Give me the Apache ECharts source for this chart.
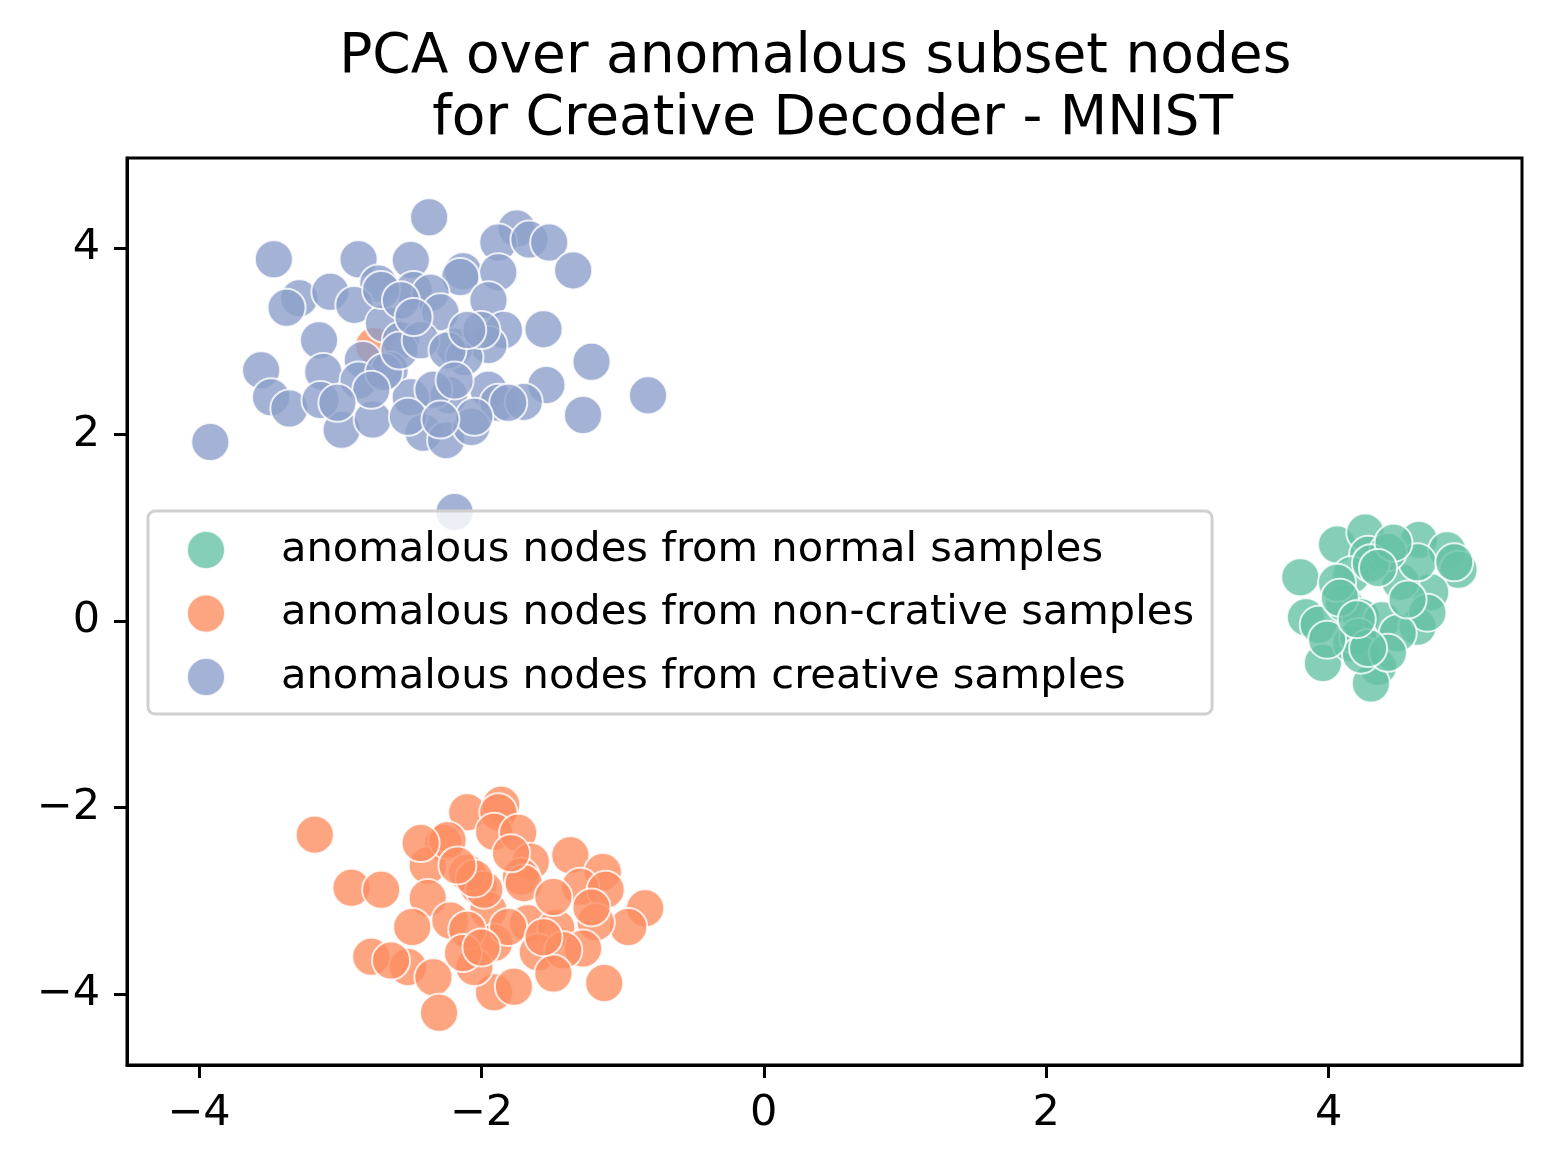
<!DOCTYPE html>
<html>
<head>
  <meta charset="utf8">
  <script src="https://cdn.jsdelivr.net/npm/echarts@6/dist/echarts.min.js"></script>
  <style>
    body { margin: 0; background: #fff; }
    #main { width: 1555px; height: 1169px; }
  </style>
</head>
<body>
<div id="main"></div>
<script type="text/javascript">
  // points, [x, y]
  var normalNodes = [
    [3.80, 0.47], [4.06, 0.82], [4.26, 0.95], [4.28, 0.71], [4.16, 0.49], [4.64, 0.87],
    [4.84, 0.76], [4.92, 0.55], [4.72, 0.31], [4.51, 0.42], [4.63, 0.63], [4.42, 0.74],
    [3.84, 0.04], [3.93, -0.04], [4.11, 0.19], [4.23, 0.04], [4.38, 0.01], [4.63, -0.06],
    [4.70, 0.09], [3.96, -0.45], [4.16, -0.24], [4.21, -0.17], [4.35, -0.49], [4.30, -0.67],
    [4.23, -0.36], [4.49, -0.13], [4.06, 0.41], [4.30, 0.62], [4.56, 0.23], [4.42, -0.34],
    [3.99, -0.20], [4.46, 0.84], [4.28, -0.29], [4.35, 0.57], [4.08, 0.25], [4.89, 0.63],
    [4.20, 0.02]
  ];
  var nonCreativeNodes = [
    [-2.76, 2.95],
    [-3.18, -2.29], [-2.92, -2.86], [-2.71, -2.88], [-2.10, -2.05], [-1.86, -1.97], [-1.88, -2.05],
    [-1.91, -2.26], [-1.74, -2.27], [-2.27, -2.38], [-2.38, -2.62], [-1.65, -2.58], [-1.37, -2.51],
    [-1.14, -2.69], [-1.30, -2.85], [-1.12, -2.88], [-0.84, -3.08], [-0.96, -3.28], [-1.19, -3.23],
    [-2.02, -2.85], [-1.72, -2.74], [-1.70, -2.81], [-2.38, -2.97], [-2.49, -3.28], [-1.95, -3.10],
    [-1.67, -3.24], [-1.47, -3.29], [-1.28, -3.51], [-1.91, -3.45], [-1.60, -3.55], [-2.78, -3.60],
    [-2.52, -3.71], [-2.34, -3.82], [-1.91, -3.98], [-1.77, -3.92], [-2.30, -4.20], [-1.13, -3.88],
    [-1.42, -3.53], [-2.05, -3.71], [-2.22, -3.21], [-2.64, -3.64], [-2.24, -2.35], [-1.49, -2.96],
    [-1.81, -3.28], [-2.10, -3.31], [-2.10, -2.70], [-1.98, -2.88], [-2.13, -3.56], [-2.00, -3.50],
    [-1.49, -3.78], [-1.56, -3.39], [-2.43, -2.38], [-1.22, -3.07], [-2.05, -2.76], [-1.79, -2.49],
    [-2.17, -2.62]
  ];
  var creativeNodes = [
    [-2.37, 4.33], [-3.47, 3.88], [-2.87, 3.88], [-2.50, 3.87], [-2.13, 3.75], [-1.75, 4.21],
    [-1.88, 4.06], [-1.66, 4.09], [-1.52, 4.06], [-1.35, 3.76], [-1.88, 3.74], [-3.29, 3.46],
    [-3.38, 3.36], [-3.07, 3.53], [-2.73, 3.62], [-2.48, 3.55], [-2.15, 3.69], [-2.90, 3.39],
    [-2.69, 3.19], [-2.36, 3.52], [-2.29, 3.31], [-1.95, 3.44], [-3.15, 3.01], [-1.84, 3.12],
    [-1.95, 2.96], [-1.56, 3.13], [-1.22, 2.78], [-3.56, 2.69], [-3.12, 2.67], [-2.84, 2.80],
    [-2.57, 3.01], [-2.19, 2.94], [-2.65, 2.69], [-2.87, 2.58], [-2.12, 2.83], [-0.82, 2.42],
    [-1.54, 2.53], [-3.49, 2.40], [-3.36, 2.28], [-1.95, 2.48], [-1.88, 2.34], [-1.70, 2.35],
    [-1.28, 2.21], [-2.23, 2.42], [-2.50, 2.40], [-2.99, 2.05], [-2.77, 2.16], [-2.41, 2.02],
    [-2.25, 1.94], [-2.07, 2.08], [-3.92, 1.92], [-2.19, 1.17], [-2.69, 2.67], [-2.58, 2.90],
    [-2.43, 3.01], [-2.24, 2.90], [-2.34, 2.48], [-2.52, 2.19], [-2.78, 2.48], [-3.14, 2.37],
    [-3.02, 2.34], [-1.81, 2.34], [-2.71, 3.55], [-2.57, 3.44], [-2.48, 3.26], [-2.19, 2.58],
    [-2.05, 2.19], [-2.29, 2.16], [-2.00, 3.12], [-2.10, 3.12]
  ];
  var seriesNames = [
    'anomalous nodes from normal samples',
    'anomalous nodes from non-crative samples',
    'anomalous nodes from creative samples'
  ];
  var seriesColors = ['#66c2a5', '#fc8d62', '#8da0cb'];
  var tickValues = [-4, -2, 0, 2, 4];

  var FONT = 'DejaVu Sans';

  function tickLabel(v) {
    return v < 0 ? '\u2212' + Math.abs(v) : String(v);
  }

  function makeSeries(name, data, color) {
    return {
      name: name,
      type: 'scatter',
      data: data,
      symbol: 'circle',
      symbolSize: 38,
      itemStyle: { color: color, opacity: 0.8, borderColor: '#fff', borderWidth: 2 },
      emphasis: { disabled: true }
    };
  }

  var axisCommon = {
    type: 'value',
    splitLine: { show: false },
    axisLine: { show: true, onZero: false, lineStyle: { color: '#000', width: 3 } },
    axisTick: { show: true, length: 13, lineStyle: { color: '#000', width: 3 }, customValues: tickValues },
    axisLabel: {
      color: '#000', fontFamily: FONT, fontSize: 43, margin: 27,
      customValues: tickValues, formatter: tickLabel
    }
  };

  var chart = echarts.init(document.getElementById('main'));
  chart.setOption({
    animation: false,
    title: {
      // matplotlib keeps the space at the line break, so both lines are padded
      text: 'PCA over anomalous subset nodes \n for Creative Decoder - MNIST',
      left: 819,
      top: 22,
      textAlign: 'center',
      textStyle: { fontFamily: FONT, fontSize: 55, fontWeight: 'normal', color: '#000', lineHeight: 62 }
    },
    grid: {
      left: 127, right: 33, top: 158, bottom: 104,
      show: true, borderColor: '#000', borderWidth: 3, backgroundColor: 'transparent'
    },
    legend: {
      orient: 'vertical',
      left: 148,
      top: 511,
      padding: [18, 18, 16, 38],
      itemGap: 21.5,
      itemWidth: 38,
      itemHeight: 38,
      icon: 'circle',
      backgroundColor: 'rgba(255,255,255,0.8)',
      borderColor: '#d0d0d0',
      borderWidth: 3,
      borderRadius: 7,
      data: seriesNames,
      textStyle: { fontFamily: FONT, fontSize: 41.6, color: '#000', lineHeight: 38, padding: [0, 0, 0, 51] }
    },
    xAxis: Object.assign({}, axisCommon, { min: -4.51, max: 5.37 }),
    yAxis: Object.assign({}, axisCommon, { min: -4.76, max: 4.965 }),
    series: [
      makeSeries(seriesNames[0], normalNodes, seriesColors[0]),
      makeSeries(seriesNames[1], nonCreativeNodes, seriesColors[1]),
      makeSeries(seriesNames[2], creativeNodes, seriesColors[2])
    ]
  });
</script>
</body>
</html>
